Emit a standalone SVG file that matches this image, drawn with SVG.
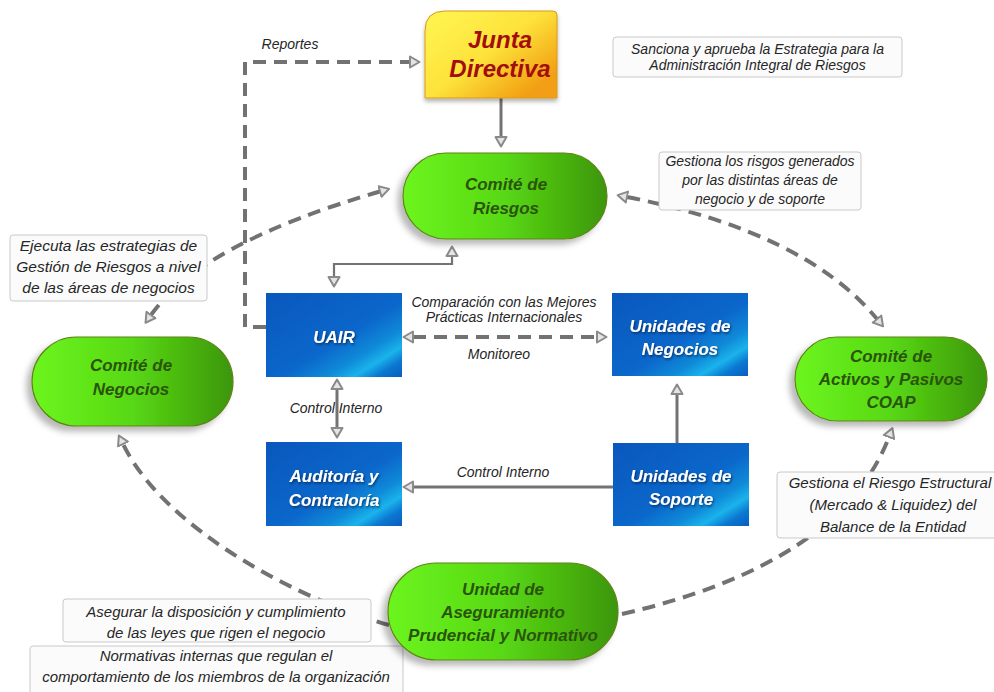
<svg xmlns="http://www.w3.org/2000/svg" width="994" height="692" viewBox="0 0 994 692">
  <defs>
    <style>
      .note rect { fill: #fbfbfb; stroke: #c9c9c9; stroke-width: 1; }
      .note text { font-family: "Liberation Sans", Arial, sans-serif; font-style: italic; fill: #262626; text-anchor: middle; }
      .lbl { font-family: "Liberation Sans", Arial, sans-serif; font-style: italic; font-size: 14px; fill: #262626; text-anchor: middle; }
      .pill rect { fill: url(#gGreen); stroke: #5f8417; stroke-width: 1.2; filter: url(#shGreen); }
      .pill text { font-family: "Liberation Sans", Arial, sans-serif; font-style: italic; font-weight: bold; font-size: 17px; fill: #2a540c; text-anchor: middle; }
      .blue rect { fill: url(#gBlue); }
      .blue text { font-family: "Liberation Sans", Arial, sans-serif; font-style: italic; font-weight: bold; font-size: 17px; fill: #ffffff; text-anchor: middle; filter: url(#shText); }
      .dash { fill: none; stroke: #727272; stroke-width: 4; stroke-dasharray: 13 8; }
      .solid { fill: none; stroke: #737373; stroke-width: 3; }
      .thin { fill: none; stroke: #737373; stroke-width: 2.2; }
    </style>
    <linearGradient id="gGreen" x1="0" y1="0" x2="1" y2="0">
      <stop offset="0" stop-color="#6cf51f"/>
      <stop offset="0.5" stop-color="#58d814"/>
      <stop offset="1" stop-color="#3c960a"/>
    </linearGradient>
    <linearGradient id="gBlue" x1="0" y1="0" x2="1" y2="1">
      <stop offset="0" stop-color="#0a57bc"/>
      <stop offset="0.55" stop-color="#0b67cb"/>
      <stop offset="0.72" stop-color="#0f8ad8"/>
      <stop offset="0.82" stop-color="#1ab3ec"/>
      <stop offset="0.9" stop-color="#0b78d1"/>
      <stop offset="1" stop-color="#0a5cc0"/>
    </linearGradient>
    <linearGradient id="gJunta" x1="0.2" y1="0" x2="1" y2="0.7">
      <stop offset="0" stop-color="#fff24e"/>
      <stop offset="0.5" stop-color="#fde23a"/>
      <stop offset="1" stop-color="#f29f12"/>
    </linearGradient>
    <filter id="shGreen" x="-20%" y="-20%" width="140%" height="150%">
      <feDropShadow dx="-5" dy="5" stdDeviation="3" flood-color="#000" flood-opacity="0.28"/>
    </filter>
    <filter id="shJunta" x="-10%" y="-10%" width="120%" height="130%">
      <feDropShadow dx="0" dy="3" stdDeviation="2" flood-color="#000" flood-opacity="0.3"/>
    </filter>
    <filter id="shText" x="-10%" y="-20%" width="120%" height="150%">
      <feDropShadow dx="1" dy="1.5" stdDeviation="1" flood-color="#001a40" flood-opacity="0.7"/>
    </filter>
    <!-- hollow grey arrowhead; the line stops at its base -->
    <marker id="ah" viewBox="0 0 12 14" refX="1" refY="7" markerWidth="12" markerHeight="14" markerUnits="userSpaceOnUse" orient="auto-start-reverse">
      <path d="M1,1.5 L10.5,7 L1,12.5 Z" fill="#e4e4e4" stroke="#8a8a8a" stroke-width="2" stroke-dasharray="none" stroke-linejoin="round"/>
    </marker>
  </defs>

  <rect width="994" height="692" fill="#ffffff"/>

  <!-- connectors -->
  <g id="connectors">
    <path class="dash" d="M266,327 H245 V62 H410" marker-end="url(#ah)"/>
    <path class="solid" d="M501,98 V137" marker-end="url(#ah)"/>
    <path class="thin" d="M452,256 V264 H334 V277" marker-start="url(#ah)" marker-end="url(#ah)"/>
    <path class="dash" d="M413,337 H597" marker-start="url(#ah)" marker-end="url(#ah)"/>
    <path class="solid" d="M337,389 V428" marker-start="url(#ah)" marker-end="url(#ah)"/>
    <path class="solid" d="M613,487 H413" marker-end="url(#ah)"/>
    <path class="solid" d="M677,443 V394" marker-end="url(#ah)"/>
    <path class="dash" d="M151,315 Q202,243 380,191.5" marker-start="url(#ah)" marker-end="url(#ah)"/>
    <path class="dash" d="M627,197 Q805,232 877,319" marker-start="url(#ah)" marker-end="url(#ah)"/>
    <path class="dash" d="M622,614 Q840,564 889,437" marker-end="url(#ah)"/>
    <path class="dash" d="M389,625 C300,600 165,530 123,444" marker-end="url(#ah)"/>
    <text class="lbl" x="290" y="49">Reportes</text>
    <text class="lbl" x="504" y="307">Comparación con las Mejores</text>
    <text class="lbl" x="504" y="322">Prácticas Internacionales</text>
    <text class="lbl" x="499" y="359">Monitoreo</text>
    <text class="lbl" x="336" y="413">Control Interno</text>
    <text class="lbl" x="503" y="477">Control Interno</text>
  </g>

  <!-- annotations -->
  <g id="note-sanciona" class="note">
    <rect x="613" y="37" width="289" height="40" rx="3"/>
    <text x="757.5" y="54" font-size="14">Sanciona y aprueba la Estrategia para la</text>
    <text x="757.5" y="70" font-size="14">Administración Integral de Riesgos</text>
  </g>
  <g id="note-gestiona-riesgos" class="note">
    <rect x="659" y="152" width="202" height="58" rx="3"/>
    <text x="760" y="166" font-size="14">Gestiona los risgos generados</text>
    <text x="760" y="185" font-size="14">por las distintas áreas de</text>
    <text x="760" y="204" font-size="14">negocio y de soporte</text>
  </g>
  <g id="note-ejecuta" class="note">
    <rect x="10" y="235" width="197" height="66" rx="3"/>
    <text x="108.5" y="251" font-size="15.5">Ejecuta las estrategias de</text>
    <text x="108.5" y="272" font-size="15.5">Gestión de Riesgos a nivel</text>
    <text x="108.5" y="293" font-size="15.5">de las áreas de negocios</text>
  </g>
  <g id="note-estructural" class="note">
    <rect x="777" y="472" width="234" height="66" rx="3"/>
    <text x="890" y="488" font-size="15">Gestiona el Riesgo Estructural</text>
    <text x="893" y="510" font-size="15">(Mercado &amp; Liquidez) del</text>
    <text x="893" y="532" font-size="15">Balance de la Entidad</text>
  </g>
  <g id="note-asegurar" class="note">
    <rect x="63" y="599" width="308" height="43" rx="3"/>
    <text x="216" y="617" font-size="15">Asegurar la disposición y cumplimiento</text>
    <text x="216" y="638" font-size="15">de las leyes que rigen el negocio</text>
  </g>
  <g id="note-normativas" class="note">
    <rect x="30" y="646" width="373" height="52" rx="3"/>
    <text x="216" y="661" font-size="15">Normativas internas que regulan el</text>
    <text x="216" y="682" font-size="15">comportamiento de los miembros de la organización</text>
  </g>

  <!-- nodes -->
  <g id="junta-directiva">
    <path d="M425,31 Q425,11 445,11 H553 Q557,11 557,15 V98 H425 Z" fill="url(#gJunta)" stroke="#d79a1c" stroke-width="1" filter="url(#shJunta)"/>
    <text x="500" y="48" font-family="'Liberation Sans', Arial, sans-serif" font-style="italic" font-weight="bold" font-size="24" fill="#a30d0d" text-anchor="middle">Junta</text>
    <text x="500" y="77" font-family="'Liberation Sans', Arial, sans-serif" font-style="italic" font-weight="bold" font-size="24" fill="#a30d0d" text-anchor="middle">Directiva</text>
  </g>
  <g id="comite-riesgos" class="pill">
    <rect x="403" y="153" width="204" height="86" rx="43"/>
    <text x="506" y="190">Comité de</text>
    <text x="506" y="214">Riesgos</text>
  </g>
  <g id="comite-negocios" class="pill">
    <rect x="32" y="337" width="201" height="89" rx="44.5"/>
    <text x="131" y="371">Comité de</text>
    <text x="131" y="395">Negocios</text>
  </g>
  <g id="comite-coap" class="pill">
    <rect x="795" y="337" width="192" height="84" rx="42"/>
    <text x="891" y="362" font-size="18">Comité de</text>
    <text x="891" y="385" font-size="18">Activos y Pasivos</text>
    <text x="891" y="408" font-size="18">COAP</text>
  </g>
  <g id="unidad-aseguramiento" class="pill">
    <rect x="388" y="563" width="230" height="97" rx="48.5"/>
    <text x="503" y="595">Unidad de</text>
    <text x="503" y="618">Aseguramiento</text>
    <text x="503" y="641">Prudencial y Normativo</text>
  </g>
  <g id="uair" class="blue">
    <rect x="266" y="293" width="136" height="84"/>
    <text x="334" y="343">UAIR</text>
  </g>
  <g id="unidades-negocios" class="blue">
    <rect x="612" y="293" width="136" height="83"/>
    <text x="680" y="332">Unidades de</text>
    <text x="680" y="355">Negocios</text>
  </g>
  <g id="auditoria-contraloria" class="blue">
    <rect x="266" y="442" width="136" height="84"/>
    <text x="334" y="482">Auditoría y</text>
    <text x="334" y="506">Contraloría</text>
  </g>
  <g id="unidades-soporte" class="blue">
    <rect x="613" y="443" width="136" height="83"/>
    <text x="681" y="482">Unidades de</text>
    <text x="681" y="505">Soporte</text>
  </g>
</svg>
